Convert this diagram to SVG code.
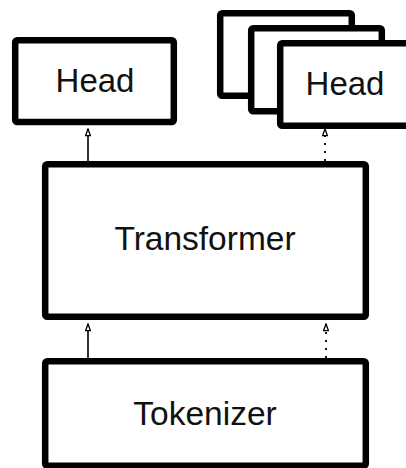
<svg xmlns="http://www.w3.org/2000/svg" width="406" height="468" viewBox="0 0 406 468">
<style>
.box{fill:#fff;stroke:#000;stroke-width:6.5;stroke-linejoin:round}
.lbl{font-family:"Liberation Sans",Arial,sans-serif;font-size:33px;fill:#111;text-anchor:middle}
.solid{stroke:#000;stroke-width:1.6;fill:none}
.dot{stroke:#000;stroke-width:1.8;fill:none;stroke-dasharray:2 6}
</style>
<defs>
<marker id="tri" viewBox="0 0 14 10" refX="13" refY="5" markerWidth="8.4" markerHeight="6" markerUnits="userSpaceOnUse" orient="auto">
<path d="M13 5 L2 1 L2 9 Z" fill="#fff" stroke="#000" stroke-width="2.2" stroke-linejoin="miter"/>
</marker>
</defs>
<g id="head-left">
<rect class="box" x="15.2" y="40.2" width="158.6" height="81.8" rx="2"/>
<text class="lbl" x="95" y="92">Head</text>
</g>
<g id="head-stack">
<rect class="box" x="220.2" y="13.2" width="131.6" height="82.6" rx="2"/>
<rect class="box" x="251.2" y="28.2" width="130.6" height="83" rx="2"/>
<g id="head-right">
<rect class="box" x="280.2" y="43.2" width="160" height="82.6" rx="2"/>
<text class="lbl" x="345" y="95">Head</text>
</g>
</g>
<g id="transformer">
<rect class="box" x="45.2" y="164.2" width="320.6" height="152.6" rx="2"/>
<text class="lbl" x="205" y="250" style="font-size:33.5px">Transformer</text>
</g>
<g id="tokenizer">
<rect class="box" x="45.2" y="361.2" width="320.6" height="104.6" rx="2"/>
<text class="lbl" x="205" y="425" style="font-size:33.5px">Tokenizer</text>
</g>
<g id="connectors">
<path class="solid" d="M88 161 L88 129" marker-end="url(#tri)"/>
<path class="dot" d="M325 161 L325 129" marker-end="url(#tri)"/>
<path class="solid" d="M88 358 L88 324" marker-end="url(#tri)"/>
<path class="dot" d="M326 358 L326 324" marker-end="url(#tri)"/>
</g>
</svg>
